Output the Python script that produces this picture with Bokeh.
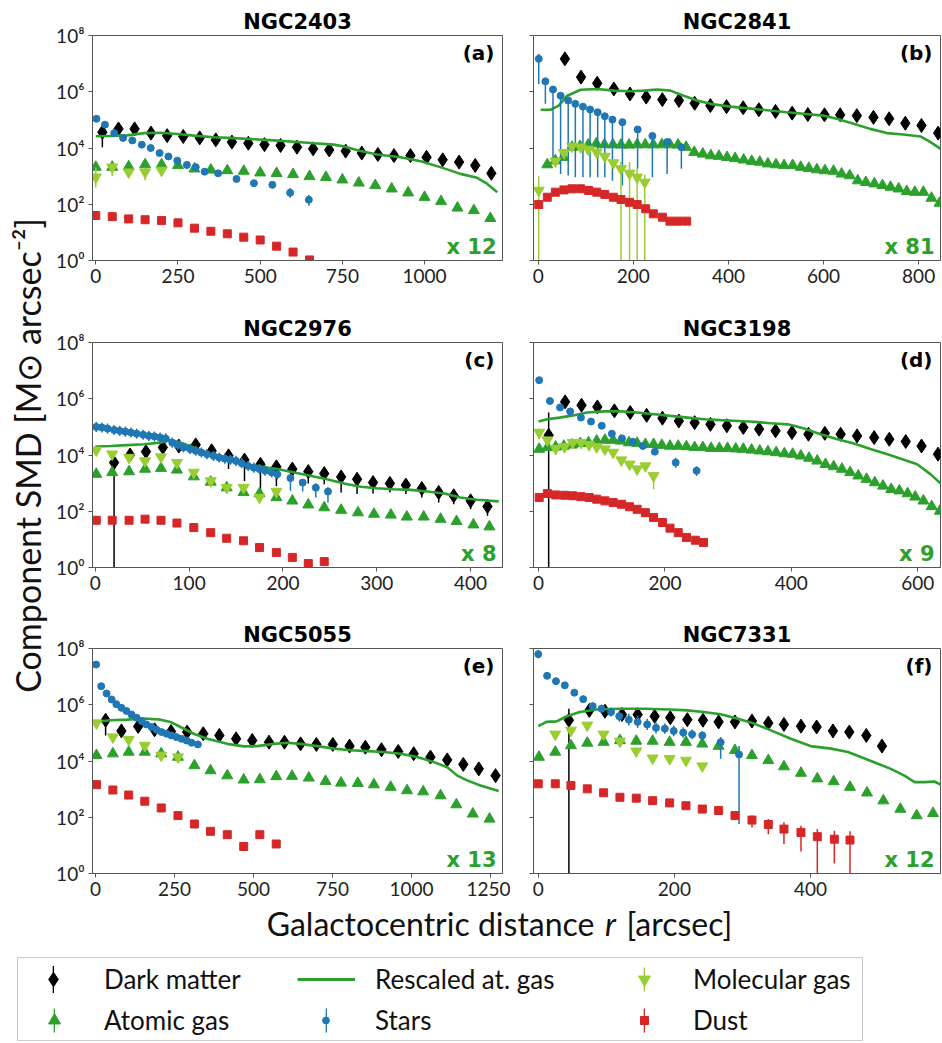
import math
from bokeh.plotting import figure
from bokeh.models import Range1d, FixedTicker, Label, Legend, LegendItem
from bokeh.layouts import row, column
from bokeh.embed import file_html
from bokeh.resources import INLINE

BLACK = "#000000"; GREEN = "#2ca02c"; LGREEN = "#9acd32"; BLUE = "#1f77b4"; RED = "#d62728"

# ---------------- data (radii in arcsec, log10 of SMD) ----------------
# NGC2403 (a)
A_DM_R = [20,69,118,168,217,266,316,365,414,464,513,562,612,661,710,760,809,858,907,957,1006,1055,1105,1154,1203]
A_DM_LOG = [4.56,4.68,4.68,4.53,4.44,4.41,4.36,4.29,4.21,4.17,4.12,4.09,4.03,3.97,3.93,3.89,3.82,3.77,3.73,3.73,3.67,3.58,3.50,3.38,3.10]
A_DM_ERR_R = [20]; A_DM_ERR_LO = [4.03]; A_DM_ERR_HI = [4.62]
A_AG_R = [0,50,100,150,200,250,300,350,400,450,500,550,600,650,700,750,800,850,900,950,1000,1050,1100,1150,1200]
A_AG_LOG = [3.32,3.32,3.34,3.41,3.41,3.38,3.26,3.22,3.20,3.18,3.12,3.10,3.06,2.99,2.96,2.87,2.76,2.67,2.55,2.41,2.25,2.10,1.87,1.78,1.50]
A_LN_R = [0,46,96,147,198,248,299,360,421,481,542,603,663,724,755,805,856,927,988,1048,1109,1160,1190,1221]
A_LN_LOG = [4.42,4.43,4.45,4.53,4.54,4.50,4.44,4.38,4.35,4.31,4.27,4.22,4.17,4.12,4.05,3.89,3.77,3.67,3.53,3.32,3.08,2.94,2.73,2.43]
A_ST_R = [2,28,56,83,111,140,167,194,221,248,277,304,331,372,428,481,537,591,648]
A_ST_LOG = [5.04,4.83,4.53,4.36,4.27,4.12,4.00,3.82,3.70,3.55,3.40,3.32,3.16,3.10,2.90,2.75,2.69,2.41,2.16]
A_ST_ERR_R = [277,591,648]; A_ST_ERR_LO = [3.25,2.23,1.95]; A_ST_ERR_HI = [3.50,2.58,2.33]
A_MG_R = [0,50,100,150,200]
A_MG_LOG = [2.96,3.32,3.14,3.14,3.20]
A_MG_ERR_R = [0,50,150]; A_MG_ERR_LO = [2.60,3.00,2.85]; A_MG_ERR_HI = [3.30,3.45,3.30]
A_DU_R = [0,50,100,150,200,250,300,350,400,450,500,550,600,650]
A_DU_LOG = [1.60,1.56,1.48,1.45,1.42,1.34,1.15,1.04,0.95,0.83,0.73,0.51,0.30,0.02]

# NGC2841 (b)
B_DM_R = [56,90,124,159,193,227,261,296,329,362,396,431,464,499,534,567,602,635,670,705,738,772,806,841]
B_DM_LOG = [7.17,6.52,6.30,6.10,5.92,5.81,5.72,5.69,5.59,5.51,5.47,5.43,5.36,5.30,5.24,5.19,5.18,5.18,5.15,5.09,5.04,4.88,4.80,4.53]
B_AG_R = [19,36,53,71,88,105,122,139,157,174,191,208,225,242,260,277,294,311,328,346,363,380,397,414,432,449,466,483,500,517,535,552,569,586,603,621,638,655,672,689,707,724,741,758,775,792,810,827,844]
B_AG_LOG = [3.41,3.55,3.67,4.03,4.06,4.11,4.15,4.12,4.12,4.11,4.11,4.12,4.12,4.12,4.12,4.12,4.11,4.03,3.85,3.79,3.73,3.71,3.67,3.63,3.58,3.53,3.50,3.44,3.41,3.38,3.38,3.32,3.28,3.23,3.20,3.18,3.08,3.02,2.84,2.78,2.73,2.67,2.61,2.55,2.46,2.43,2.43,2.22,2.04]
B_LN_R = [5,26,43,61,89,124,159,194,222,250,278,306,334,362,404,453,523,600,628,663,698,733,768,804,825,846]
B_LN_LOG = [5.36,5.36,5.51,5.86,6.07,6.10,6.04,6.02,6.04,6.08,6.04,5.86,5.69,5.57,5.47,5.39,5.27,5.15,5.04,4.86,4.68,4.53,4.48,4.41,4.21,3.97]
B_ST_R = [1,15,31,47,63,78,94,109,125,140,156,177,209,240,271,301]
B_ST_LOG = [7.17,6.37,6.08,5.86,5.69,5.57,5.47,5.37,5.27,5.13,5.01,4.92,4.66,4.43,4.21,4.03]
B_ST_ERR_LO = [6.28,5.57,3.44,3.08,3.02,2.96,2.96,2.96,2.96,2.96,2.84,2.67,3.26,2.96,3.08,3.26]
B_ST_ERR_HI = [7.35,6.45,6.15,5.92,5.75,5.62,5.55,5.45,5.32,5.20,5.08,5.00,4.75,4.50,4.30,4.10]
B_MG_R = [1,36,54,71,89,105,123,140,158,174,192,208,224]
B_MG_LOG = [2.49,3.53,3.83,4.06,4.03,3.95,3.85,3.70,3.47,3.26,3.10,2.96,2.78]
B_MG_ERR_R = [1,174,192,208,224]; B_MG_ERR_LO = [-1,-1,-1,-1,-1]; B_MG_ERR_HI = [3.00,3.50,3.50,3.30,3.05]
B_DU_R = [1,19,36,54,71,89,106,123,140,158,174,192,208,226,242,261,277,294,312]
B_DU_LOG = [1.99,2.25,2.43,2.51,2.55,2.55,2.49,2.43,2.35,2.25,2.17,2.07,1.99,1.84,1.66,1.54,1.40,1.40,1.40]

# NGC2976 (c)
C_DM_R = [20,37,54,72,89,107,124,142,159,176,193,210,227,244,262,279,296,314,331,348,366,382,400,418]
C_DM_LOG = [3.73,4.00,4.12,4.27,4.32,4.36,4.15,3.97,3.82,3.67,3.58,3.50,3.41,3.34,3.22,3.14,3.02,2.99,2.93,2.81,2.67,2.55,2.37,2.17]
C_DM_ERR_LO = [-1,3.85,3.97,4.09,4.15,4.09,3.91,3.50,3.08,2.73,2.90,3.08,2.99,2.96,2.67,2.61,2.63,2.67,2.61,2.49,2.31,2.25,2.07,1.84]
C_DM_ERR_HI = [3.80,4.08,4.20,4.35,4.40,4.44,4.23,4.05,3.90,3.75,3.66,3.58,3.49,3.42,3.30,3.22,3.10,3.07,3.01,2.89,2.75,2.63,2.45,2.25]
C_AG_R = [1,18,36,53,70,87,105,123,140,158,175,193,210,227,244,262,280,297,315,332,350,368,385,403,420]
C_AG_LOG = [3.32,3.38,3.41,3.50,3.53,3.47,3.23,3.04,2.84,2.67,2.63,2.49,2.37,2.23,2.13,2.04,1.95,1.90,1.87,1.80,1.80,1.72,1.64,1.52,1.45]
C_LN_R = [0,16,34,52,69,80,91,105,123,140,158,176,194,212,229,247,265,283,300,318,336,354,372,389,407,430]
C_LN_LOG = [4.30,4.32,4.35,4.38,4.44,4.53,4.44,4.27,4.03,3.85,3.67,3.59,3.50,3.38,3.26,3.14,2.99,2.87,2.82,2.78,2.76,2.70,2.63,2.49,2.41,2.35]
C_ST_R = [1,7,13,20,26,32,38,44,51,57,63,69,75,82,88,94,101,107,113,119,126,132,138,144,150,156,163,169,175,181,188,194,208,221,235,248]
C_ST_LOG = [5.00,4.98,4.94,4.89,4.86,4.83,4.80,4.76,4.72,4.68,4.66,4.62,4.59,4.44,4.36,4.27,4.21,4.15,4.09,4.03,3.97,3.91,3.87,3.83,3.79,3.71,3.61,3.55,3.50,3.44,3.38,3.32,3.18,3.02,2.84,2.70]
C_ST_ERR_LO = [4.82,4.80,4.76,4.71,4.68,4.65,4.62,4.58,4.54,4.50,4.48,4.44,4.41,4.26,4.18,4.09,4.03,3.97,3.91,3.85,3.79,3.73,3.69,3.65,3.61,3.53,3.43,3.37,3.32,3.26,3.20,3.14,2.73,2.70,2.49,2.31]
C_ST_ERR_HI = [5.18,5.16,5.12,5.07,5.04,5.01,4.98,4.94,4.90,4.86,4.84,4.80,4.77,4.62,4.54,4.45,4.39,4.33,4.27,4.21,4.15,4.09,4.05,4.01,3.97,3.89,3.79,3.73,3.68,3.62,3.56,3.50,3.30,3.15,3.00,2.85]
C_MG_R = [1,18,36,53,70,87,105,123,140,158,175,193]
C_MG_LOG = [4.17,4.03,3.91,3.79,3.93,3.73,3.38,3.08,2.84,2.84,2.49,2.70]
C_MG_ERR_R = [193]; C_MG_ERR_LO = [2.45]; C_MG_ERR_HI = [2.85]
C_DU_R = [1,18,36,53,70,87,105,123,140,158,175,193,210,227,244]
C_DU_LOG = [1.68,1.68,1.68,1.72,1.68,1.58,1.42,1.24,1.04,0.95,0.71,0.53,0.36,0.14,0.21]

# NGC3198 (d)
D_DM_R = [16,42,68,93,120,145,171,196,222,247,272,298,324,349,375,401,427,453,478,504,531,555,581,606,632]
D_DM_LOG = [4.70,5.89,5.77,5.71,5.57,5.51,5.41,5.31,5.21,5.15,5.09,5.04,4.98,4.92,4.86,4.80,4.74,4.77,4.74,4.68,4.62,4.56,4.48,4.32,4.03]
D_DM_ERR_R = [16]; D_DM_ERR_LO = [-1]; D_DM_ERR_HI = [5.51]
D_AG_R = [1,14,27,40,53,66,79,92,105,118,130,143,156,169,182,195,208,221,234,247,260,273,286,299,312,324,337,350,363,376,389,402,415,428,441,454,467,480,493,506,519,532,545,558,571,584,596,609,622,635]
D_AG_LOG = [4.21,4.27,4.29,4.32,4.36,4.41,4.44,4.50,4.53,4.53,4.50,4.44,4.42,4.38,4.38,4.35,4.32,4.32,4.30,4.27,4.27,4.24,4.24,4.24,4.22,4.21,4.18,4.15,4.12,4.09,4.05,4.03,3.97,3.89,3.79,3.67,3.59,3.50,3.38,3.26,3.14,3.02,2.90,2.78,2.73,2.63,2.51,2.37,2.17,2.01]
D_LN_R = [0,14,33,51,77,104,130,156,183,209,236,262,288,315,341,367,394,404,420,446,473,499,525,552,578,599,620,636]
D_LN_LOG = [5.19,5.27,5.33,5.39,5.51,5.55,5.55,5.51,5.45,5.39,5.33,5.27,5.24,5.21,5.18,5.13,5.09,5.04,4.94,4.74,4.56,4.41,4.21,4.03,3.83,3.67,3.32,2.99]
D_ST_R = [1,18,34,50,67,83,100,116,132,149,165,184,217,250]
D_ST_LOG = [6.66,5.92,5.69,5.55,5.33,5.19,5.04,4.76,4.59,4.47,4.32,4.12,3.73,3.44]
D_ST_ERR_R = [1,217,250]; D_ST_ERR_LO = [6.55,3.55,3.25]; D_ST_ERR_HI = [6.75,3.90,3.60]
D_MG_R = [1,14,27,41,54,67,80,92,105,118,131,144,156,169,182]
D_MG_LOG = [4.80,4.53,4.23,4.29,4.44,4.44,4.36,4.29,4.21,4.09,3.82,3.67,3.50,3.61,3.26]
D_MG_ERR_R = [1,27,41,182]; D_MG_ERR_LO = [4.55,4.00,4.10,2.78]; D_MG_ERR_HI = [4.95,4.35,4.40,3.40]
D_DU_R = [1,14,27,41,54,67,80,92,105,118,131,144,156,169,182,196,208,221,234,248,261]
D_DU_LOG = [2.49,2.63,2.58,2.57,2.55,2.52,2.49,2.43,2.37,2.31,2.25,2.16,2.07,1.95,1.78,1.60,1.40,1.24,1.07,0.97,0.89]

# NGC5055 (e)
E_DM_R = [32,82,135,187,239,290,341,392,445,496,549,598,649,699,751,804,854,905,958,1007,1060,1113,1164,1213,1266]
E_DM_LOG = [5.45,5.07,5.23,5.11,5.05,5.03,4.97,4.91,4.79,4.73,4.67,4.67,4.61,4.59,4.59,4.53,4.49,4.40,4.34,4.26,4.14,4.04,3.88,3.72,3.48]
E_DM_ERR_R = [32]; E_DM_ERR_LO = [4.91]; E_DM_ERR_HI = [5.50]
E_AG_R = [3,55,105,156,208,261,313,364,417,469,520,572,622,675,728,777,830,881,934,986,1037,1092,1142,1194,1247]
E_AG_LOG = [4.20,4.26,4.32,4.32,4.26,4.14,3.84,3.66,3.48,3.33,3.34,3.45,3.46,3.40,3.28,3.22,3.21,3.16,3.07,2.95,2.91,2.77,2.45,2.12,1.94]
E_LN_R = [0,47,100,153,206,237,269,311,354,417,470,512,565,607,649,702,755,807,860,913,966,1018,1071,1113,1145,1176,1218,1276]
E_LN_LOG = [5.39,5.45,5.47,5.51,5.47,5.39,5.21,4.97,4.79,4.61,4.52,4.53,4.61,4.65,4.61,4.53,4.44,4.38,4.35,4.32,4.26,4.14,3.96,3.78,3.48,3.31,3.13,2.93]
E_ST_R = [2,18,35,51,66,82,98,114,130,146,161,177,193,209,225,240,256,272,288,304,324]
E_ST_LOG = [7.43,6.66,6.40,6.19,6.02,5.89,5.78,5.65,5.54,5.42,5.30,5.21,5.11,5.03,4.97,4.91,4.85,4.79,4.73,4.65,4.59]
E_MG_R = [3,55,105,156,208,261]
E_MG_LOG = [5.35,4.85,4.76,4.55,4.20,4.14]
E_MG_ERR_R = [3,55,208]; E_MG_ERR_LO = [5.20,4.70,4.05]; E_MG_ERR_HI = [5.45,4.95,4.30]
E_DU_R = [3,55,105,156,208,261,313,364,417,469,520,572]
E_DU_LOG = [3.16,2.97,2.79,2.57,2.33,2.06,1.76,1.50,1.38,0.96,1.38,1.05]

# NGC7331 (f)
F_DM_R = [45,75,98,123,146,171,194,219,242,265,289,314,338,361,386,409,433,457,482,505]
F_DM_LOG = [5.45,5.80,5.77,5.65,5.65,5.59,5.54,5.47,5.45,5.39,5.39,5.42,5.35,5.30,5.24,5.21,5.07,5.03,4.91,4.53]
F_DM_ERR_R = [45]; F_DM_ERR_LO = [-1]; F_DM_ERR_HI = [5.86]
F_AG_R = [1,25,48,72,96,120,144,168,193,217,241,265,289,314,338,361,386,410,434,458,483,507,532,556,580]
F_AG_LOG = [4.14,4.32,4.55,4.64,4.67,4.73,4.71,4.71,4.67,4.67,4.61,4.53,4.38,4.20,4.02,3.80,3.57,3.37,3.27,3.07,2.87,2.59,2.29,2.06,2.14]
F_LN_R = [0,12,27,42,61,86,120,155,194,219,243,268,292,317,342,371,400,430,455,474,499,518,538,553,568,582,594]
F_LN_LOG = [5.24,5.39,5.41,5.59,5.74,5.83,5.86,5.86,5.83,5.80,5.74,5.66,5.51,5.33,5.09,4.79,4.53,4.44,4.32,4.14,3.90,3.72,3.48,3.25,3.25,3.27,3.13]
F_ST_R = [0,13,26,39,53,66,80,93,107,119,133,146,160,173,186,199,213,226,241,268,295]
F_ST_LOG = [7.80,7.03,6.84,6.69,6.43,6.20,5.95,5.86,5.74,5.59,5.47,5.39,5.30,5.18,5.15,5.07,5.01,4.95,4.91,4.67,4.23]
F_ST_ERR_LO = [7.65,6.95,6.76,6.60,6.32,6.08,5.82,5.72,5.58,5.40,5.26,5.17,5.10,4.98,4.97,4.88,4.83,4.78,4.75,4.08,1.76]
F_ST_ERR_HI = [7.95,7.10,6.92,6.78,6.54,6.32,6.08,6.00,5.90,5.78,5.68,5.61,5.50,5.38,5.33,5.26,5.19,5.12,5.07,4.85,4.53]
F_MG_R = [25,48,72,96,120,144,168,193,217,241]
F_MG_LOG = [4.95,5.09,5.27,4.95,4.70,4.35,4.10,4.08,4.02,3.82]
F_MG_ERR_R = [25,120,144]; F_MG_ERR_LO = [4.75,4.50,4.20]; F_MG_ERR_HI = [5.00,4.85,4.45]
F_DU_R = [0,25,48,72,96,120,144,168,193,217,241,265,289,314,338,361,386,410,435,458]
F_DU_LOG = [3.19,3.19,3.13,3.01,2.87,2.71,2.68,2.59,2.51,2.41,2.29,2.24,2.06,1.90,1.74,1.58,1.46,1.31,1.22,1.19]
F_DU_ERR_R = [314,338,361,386,410,435,458]
F_DU_ERR_LO = [1.64,1.40,1.05,0.78,-1,0.36,-1]
F_DU_ERR_HI = [2.06,1.94,1.82,1.70,1.58,1.52,1.50]

NAMES = ["NGC2403", "NGC2841", "NGC2976", "NGC3198", "NGC5055", "NGC7331"]
TAGS = ["(a)", "(b)", "(c)", "(d)", "(e)", "(f)"]
FACTORS = ["x 12", "x 81", "x 8", "x 9", "x 13", "x 12"]
X_TICKS = [[0,250,500,750,1000], [0,200,400,600,800], [0,100,200,300,400],
           [0,200,400,600], [0,250,500,750,1000,1250], [0,200,400]]
X_LIMITS = [(-10,1237), (-10,846), (-3,434), (-8,636), (-9.5,1288), (-7,591)]
Y_TICKS = [1.0, 100.0, 1e4, 1e6, 1e8]
Y_TICK_LABELS = ["10⁰", "10²", "10⁴", "10⁶", "10⁸"]
LEGEND_LABELS = ["Dark matter", "Rescaled at. gas", "Molecular gas", "Atomic gas", "Stars", "Dust"]
Y_TITLE = "Component SMD [M⊙ arcsec⁻²]"
X_TITLE_PARTS = ["Galactocentric distance", "r", "[arcsec]"]

LABEL_FONT = "Lato"
NAN = float("nan")


def pw(v):
    return [10.0 ** x for x in v]


def series(p, r, logv, marker, color, size, err=None):
    if err is not None:
        er, lo, hi = err
        p.segment(x0=er, x1=er, y0=pw(lo), y1=pw(hi), line_color=color, line_width=1.5)
    p.scatter(x=r, y=pw(logv), marker=marker, size=size, fill_color=color, line_color=color)


def panel(i, d, left, bottom):
    w = 460 if left else 432
    h = 35 + 225 + bottom
    p = figure(width=w, height=h, x_range=Range1d(*X_LIMITS[i]), y_range=Range1d(1, 1e8),
               y_axis_type="log", output_backend="svg", toolbar_location=None,
               min_border_left=42 if left else 23, min_border_right=8 if left else 2,
               min_border_top=35, min_border_bottom=bottom)
    p.title.text = NAMES[i]
    p.title.align = "center"
    p.title.text_font = "DejaVu Sans"
    p.title.text_font_style = "bold"
    p.title.text_font_size = "21px"
    p.title.text_color = "black"
    p.title.standoff = 4
    p.xgrid.visible = False
    p.ygrid.visible = False
    p.outline_line_color = "#555555"
    p.background_fill_color = "white"
    p.xaxis.ticker = FixedTicker(ticks=X_TICKS[i], minor_ticks=[])
    p.yaxis.ticker = FixedTicker(ticks=Y_TICKS, minor_ticks=[])
    for ax in p.axis:
        ax.major_tick_in = 0
        ax.major_tick_out = 4
        ax.minor_tick_in = 0
        ax.minor_tick_out = 0
        ax.axis_line_color = "#555555"
        ax.major_tick_line_color = "#555555"
        ax.major_label_text_font = LABEL_FONT
        ax.major_label_text_font_size = "19px"
        ax.major_label_text_color = "#222222"
        ax.major_label_standoff = 4
    if left:
        p.yaxis.major_label_overrides = dict(zip(Y_TICKS, Y_TICK_LABELS))
    else:
        p.yaxis.major_label_overrides = {t: "" for t in Y_TICKS}

    series(p, d["dm"][0], d["dm"][1], "diamond", BLACK, 14, d["dm"][2])
    series(p, d["ag"][0], d["ag"][1], "triangle", GREEN, 11)
    p.line(x=d["ln"][0], y=pw(d["ln"][1]), line_color=GREEN, line_width=2.6)
    series(p, d["st"][0], d["st"][1], "circle", BLUE, 7, d["st"][2])
    series(p, d["mg"][0], d["mg"][1], "inverted_triangle", LGREEN, 11, d["mg"][2])
    series(p, d["du"][0], d["du"][1], "square", RED, 8, d["du"][2])

    p.add_layout(Label(x=X_LIMITS[i][1], y=1e8, text=TAGS[i], text_align="right", text_baseline="top",
                       x_offset=-8, y_offset=-5, text_font="DejaVu Sans", text_font_style="bold",
                       text_font_size="20px", text_color="black"))
    p.add_layout(Label(x=X_LIMITS[i][1], y=1, text=FACTORS[i], text_align="right", text_baseline="bottom",
                       x_offset=-6, y_offset=2, text_font="DejaVu Sans", text_font_style="bold",
                       text_font_size="21px", text_color=GREEN))
    return p


DATA = [
    dict(dm=(A_DM_R, A_DM_LOG, (A_DM_ERR_R, A_DM_ERR_LO, A_DM_ERR_HI)), ag=(A_AG_R, A_AG_LOG), ln=(A_LN_R, A_LN_LOG),
         st=(A_ST_R, A_ST_LOG, (A_ST_ERR_R, A_ST_ERR_LO, A_ST_ERR_HI)), mg=(A_MG_R, A_MG_LOG, (A_MG_ERR_R, A_MG_ERR_LO, A_MG_ERR_HI)),
         du=(A_DU_R, A_DU_LOG, None)),
    dict(dm=(B_DM_R, B_DM_LOG, None), ag=(B_AG_R, B_AG_LOG), ln=(B_LN_R, B_LN_LOG),
         st=(B_ST_R, B_ST_LOG, (B_ST_R, B_ST_ERR_LO, B_ST_ERR_HI)), mg=(B_MG_R, B_MG_LOG, (B_MG_ERR_R, B_MG_ERR_LO, B_MG_ERR_HI)),
         du=(B_DU_R, B_DU_LOG, None)),
    dict(dm=(C_DM_R, C_DM_LOG, (C_DM_R, C_DM_ERR_LO, C_DM_ERR_HI)), ag=(C_AG_R, C_AG_LOG), ln=(C_LN_R, C_LN_LOG),
         st=(C_ST_R, C_ST_LOG, (C_ST_R, C_ST_ERR_LO, C_ST_ERR_HI)), mg=(C_MG_R, C_MG_LOG, (C_MG_ERR_R, C_MG_ERR_LO, C_MG_ERR_HI)),
         du=(C_DU_R, C_DU_LOG, None)),
    dict(dm=(D_DM_R, D_DM_LOG, (D_DM_ERR_R, D_DM_ERR_LO, D_DM_ERR_HI)), ag=(D_AG_R, D_AG_LOG), ln=(D_LN_R, D_LN_LOG),
         st=(D_ST_R, D_ST_LOG, (D_ST_ERR_R, D_ST_ERR_LO, D_ST_ERR_HI)), mg=(D_MG_R, D_MG_LOG, (D_MG_ERR_R, D_MG_ERR_LO, D_MG_ERR_HI)),
         du=(D_DU_R, D_DU_LOG, None)),
    dict(dm=(E_DM_R, E_DM_LOG, (E_DM_ERR_R, E_DM_ERR_LO, E_DM_ERR_HI)), ag=(E_AG_R, E_AG_LOG), ln=(E_LN_R, E_LN_LOG),
         st=(E_ST_R, E_ST_LOG, None), mg=(E_MG_R, E_MG_LOG, (E_MG_ERR_R, E_MG_ERR_LO, E_MG_ERR_HI)),
         du=(E_DU_R, E_DU_LOG, None)),
    dict(dm=(F_DM_R, F_DM_LOG, (F_DM_ERR_R, F_DM_ERR_LO, F_DM_ERR_HI)), ag=(F_AG_R, F_AG_LOG), ln=(F_LN_R, F_LN_LOG),
         st=(F_ST_R, F_ST_LOG, (F_ST_R, F_ST_ERR_LO, F_ST_ERR_HI)), mg=(F_MG_R, F_MG_LOG, (F_MG_ERR_R, F_MG_ERR_LO, F_MG_ERR_HI)),
         du=(F_DU_R, F_DU_LOG, (F_DU_ERR_R, F_DU_ERR_LO, F_DU_ERR_HI))),
]

bottoms = [47, 47, 46, 46, 30, 30]
panels = [panel(i, DATA[i], i % 2 == 0, bottoms[i]) for i in range(6)]
grid_h = sum(bottoms[0::2]) + 3 * 260   # 903


def blank(w, h, **kw):
    f = figure(width=w, height=h, x_range=Range1d(0, 1), y_range=Range1d(0, 1), output_backend="svg",
               toolbar_location=None, x_axis_location=None, y_axis_location=None, **kw)
    f.outline_line_color = None
    f.xgrid.visible = False
    f.ygrid.visible = False
    return f


ylab = blank(50, grid_h, min_border=0)
ylab.add_layout(Label(x=27, y=grid_h - 455, x_units="screen", y_units="screen",
                      text=Y_TITLE, angle=math.pi / 2,
                      text_align="center", text_baseline="middle", text_font=LABEL_FONT,
                      text_font_size="34px", text_color="#111111"))

xlab_h = 48
xlab = blank(942, xlab_h, min_border=0)
mid_y = xlab_h - (923 - grid_h)
for txt, xpos, align, style in zip(X_TITLE_PARTS, [577, 593, 609], ["right", "center", "left"],
                                   ["normal", "italic", "normal"]):
    xlab.add_layout(Label(x=xpos, y=mid_y, x_units="screen", y_units="screen", text=txt,
                          text_align=align, text_baseline="middle", text_font=LABEL_FONT,
                          text_font_style=style, text_font_size="32px", text_color="#111111"))

# legend: frame of this figure is the legend box
leg_h = 1043 - grid_h - xlab_h
legf = blank(942, leg_h, min_border_left=17, min_border_right=80, min_border_top=6, min_border_bottom=3)
legf.outline_line_color = "#cccccc"
legf.outline_line_width = 1

# vertical "error bar" strokes of the legend symbols
bar_specs = [(BLACK, 35, 44, 34), (GREEN, 36, 5, 30), (BLUE, 308, 5, 30), (LGREEN, 626, 46, 30), (RED, 626, 5, 30)]
for color, lx, ly, gh in bar_specs:
    rb = legf.vbar(x=[NAN], top=[NAN], width=0.01, fill_color=color, line_color=None)
    legf.add_layout(Legend(items=[LegendItem(label="", renderers=[rb])], location=(lx, ly),
                           glyph_width=2, glyph_height=gh, label_standoff=0, padding=0, margin=0,
                           border_line_color=None, background_fill_alpha=0, label_width=1), "center")

r_dm = legf.scatter(x=[NAN], y=[NAN], marker="diamond", fill_color=BLACK, line_color=BLACK)
r_ln = legf.line(x=[NAN], y=[NAN], line_color=GREEN, line_width=3)
r_mg = legf.scatter(x=[NAN], y=[NAN], marker="inverted_triangle", fill_color=LGREEN, line_color=LGREEN)
r_ag = legf.scatter(x=[NAN], y=[NAN], marker="triangle", fill_color=GREEN, line_color=GREEN)
r_st = legf.scatter(x=[NAN], y=[NAN], marker="circle", fill_color=BLUE, line_color=BLUE)
r_du = legf.scatter(x=[NAN], y=[NAN], marker="square", fill_color=RED, line_color=RED)
# (renderer, location, glyph width, standoff)
leg_specs = [(r_dm, (18, 43), 36, 33), (r_ln, (280, 43), 58, 20), (r_mg, (612, 43), 30, 34),
             (r_ag, (22, 2), 30, 35), (r_st, (300, 2), 17, 41), (r_du, (617, 2), 20, 39)]
for lab, (rr, loc, gw, so) in zip(LEGEND_LABELS, leg_specs):
    legf.add_layout(Legend(items=[LegendItem(label=lab, renderers=[rr])], location=loc,
                           glyph_width=gw, glyph_height=36, label_standoff=so, padding=0, margin=0,
                           label_text_font=LABEL_FONT, label_text_font_size="26px",
                           label_text_color="#111111", border_line_color=None,
                           background_fill_alpha=0), "center")

layout = column(row(ylab, column(row(panels[0], panels[1]), row(panels[2], panels[3]), row(panels[4], panels[5]))),
                xlab, legf)

open("out.html", "w").write(file_html(layout, INLINE))
